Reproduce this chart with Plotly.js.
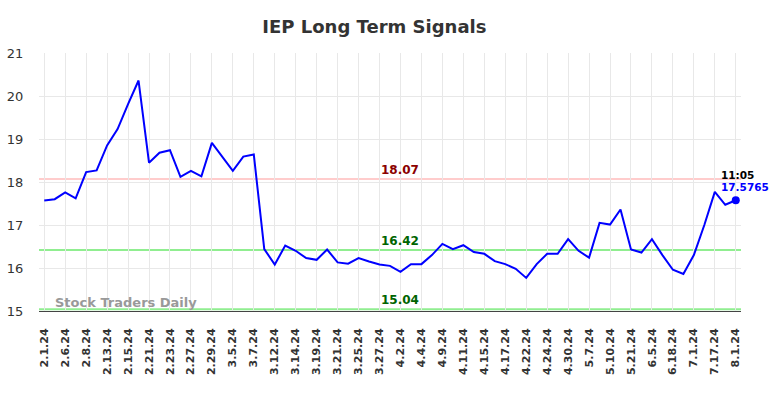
<!DOCTYPE html>
<html>
<head>
<meta charset="utf-8">
<script src="https://cdn.plot.ly/plotly-3.0.1.min.js"></script>
<style>html,body{margin:0;padding:0;background:#fff;}#chart{width:784px;height:398px;}</style>
</head>
<body>
<div id="chart"></div>
<script>
const dates = ["2.1.24","2.5.24","2.6.24","2.7.24","2.8.24","2.12.24","2.13.24","2.14.24","2.15.24","2.20.24",
  "2.21.24","2.22.24","2.23.24","2.26.24","2.27.24","2.28.24","2.29.24","3.4.24","3.5.24","3.6.24",
  "3.7.24","3.11.24","3.12.24","3.13.24","3.14.24","3.18.24","3.19.24","3.20.24","3.21.24","3.22.24",
  "3.25.24","3.26.24","3.27.24","4.1.24","4.2.24","4.3.24","4.4.24","4.8.24","4.9.24","4.10.24",
  "4.11.24","4.12.24","4.15.24","4.16.24","4.17.24","4.18.24","4.22.24","4.23.24","4.24.24","4.29.24",
  "4.30.24","5.6.24","5.7.24","5.9.24","5.10.24","5.20.24","5.21.24","6.4.24","6.5.24","6.17.24",
  "6.18.24","6.28.24","7.1.24","7.16.24","7.17.24","7.31.24","8.1.24"];
const prices = [17.57,17.60,17.76,17.62,18.23,18.27,18.85,19.23,19.81,20.36,
  18.45,18.68,18.74,18.12,18.26,18.13,18.91,18.59,18.26,18.59,
  18.64,16.44,16.08,16.52,16.40,16.23,16.19,16.43,16.13,16.10,
  16.23,16.15,16.08,16.05,15.91,16.09,16.09,16.30,16.56,16.44,
  16.53,16.37,16.33,16.16,16.09,15.98,15.77,16.09,16.33,16.33,
  16.67,16.40,16.24,17.05,17.01,17.36,16.43,16.36,16.67,16.30,
  15.96,15.86,16.30,17.00,17.77,17.47,17.5765];
const tickLabels = dates.filter((d, i) => i % 2 === 0);
const resistance = 18.07;
const supports = [16.42, 15.04];
const lastTime = "11:05";
const lastPrice = prices[prices.length - 1];
const lastDate = dates[dates.length - 1];

const traces = [
  {x: dates, y: prices, type: 'scatter', mode: 'lines',
   line: {color: '#0000ff', width: 2}, hoverinfo: 'skip'},
  {x: [lastDate], y: [lastPrice], type: 'scatter', mode: 'markers',
   marker: {color: '#0000ff', size: 8}, hoverinfo: 'skip'}
];

const levelLine = (y, color) => ({type: 'line', xref: 'paper', x0: 0, x1: 1, yref: 'y', y0: y, y1: y,
  line: {color: color, width: 2}, layer: 'below'});
const shapes = [levelLine(resistance, '#ffcccc')].concat(supports.map(s => levelLine(s, '#90ee90')));

const fontB = 'DejaVu Sans';
const levelNote = (y, color) => ({x: 34, xref: 'x', y: y, yref: 'y', text: '<b>' + y.toFixed(2) + '</b>',
  showarrow: false, xanchor: 'center', yanchor: 'bottom', font: {family: fontB, size: 12, color: color}});

const annotations = [
  levelNote(resistance, '#8b0000'),
  levelNote(supports[0], '#006400'),
  levelNote(supports[1], '#006400'),
  {x: 66, xref: 'x', y: lastPrice, yref: 'y', text: '<b>' + lastPrice + '</b>', showarrow: false,
   xanchor: 'left', yanchor: 'middle', xshift: -17, yshift: 13, font: {family: fontB, size: 10.5, color: '#0000ff'}},
  {x: 66, xref: 'x', y: lastPrice, yref: 'y', text: '<b>' + lastTime + '</b>', showarrow: false,
   xanchor: 'left', yanchor: 'middle', xshift: -17, yshift: 25, font: {family: fontB, size: 10.5, color: '#000000'}},
  {x: 0.02, xref: 'paper', y: 0.032, yref: 'paper', text: '<b>Stock Traders Daily</b>', showarrow: false,
   xanchor: 'left', yanchor: 'middle', font: {family: fontB, size: 13, color: '#999999'}}
];

const layout = {
  width: 784, height: 398,
  margin: {l: 39, r: 43, t: 53, b: 87, pad: 0},
  paper_bgcolor: '#ffffff', plot_bgcolor: '#ffffff',
  showlegend: false,
  title: {text: '<b>IEP Long Term Signals</b>', xref: 'container', x: 0.4775, xanchor: 'center',
    yref: 'container', y: 0.932, yanchor: 'middle', font: {family: fontB, size: 18, color: '#333333'}},
  xaxis: {type: 'category', range: [-0.5, dates.length - 0.5], tickmode: 'array',
    tickvals: tickLabels, ticktext: tickLabels.map(t => '<b>' + t + '</b>'), tickangle: -90,
    tickfont: {family: fontB, size: 11, color: '#333333'},
    showgrid: true, gridcolor: '#e8e8e8', gridwidth: 1,
    showline: true, linecolor: '#444444', linewidth: 1,
    ticks: 'outside', ticklen: 12, tickcolor: 'rgba(0,0,0,0)', zeroline: false, fixedrange: true},
  yaxis: {range: [15, 21], dtick: 1, tick0: 15,
    tickfont: {family: fontB, size: 13, color: '#333333'},
    showgrid: true, gridcolor: '#e8e8e8', gridwidth: 1, zeroline: false, showline: false,
    ticks: 'outside', ticklen: 12, tickcolor: 'rgba(0,0,0,0)', fixedrange: true},
  shapes: shapes,
  annotations: annotations
};

Plotly.newPlot('chart', traces, layout, {displayModeBar: false, staticPlot: true});
</script>
</body>
</html>
